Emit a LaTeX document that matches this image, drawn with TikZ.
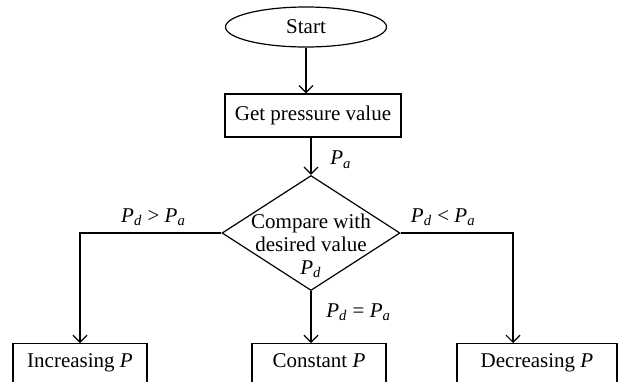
\documentclass[tikz,border=0pt]{standalone}
\usepackage{amsmath}
\usepackage{fontspec}
\setmainfont{Liberation Serif}
\usetikzlibrary{shapes.geometric,arrows.meta}
\newcommand{\Pv}[1]{\textit{P}$_{\textit{#1}}$}

\begin{document}
\begin{tikzpicture}[x=0.5pt,y=-0.5pt,line width=0.6pt,
  font=\fontsize{10.5}{11.5}\selectfont,>={Straight Barb[length=3.5pt,width=7pt]},
  start node/.style={ellipse,draw,minimum width=80.5pt,minimum height=20pt,inner sep=0pt},
  step node/.style={rectangle,draw,minimum height=21.5pt,inner sep=0pt},
  test node/.style={diamond,draw,minimum width=89pt,minimum height=57.5pt,inner sep=0pt},
  out node/.style={rectangle,draw,anchor=north,inner xsep=0pt,inner ysep=4.8pt,text height=7.2pt,text depth=8pt},
  elbow/.style={to path={-| (\tikztotarget) \tikztonodes}},
  trans/.style={->}]
  \useasboundingbox (0,0) rectangle (619,381);

  \node[start node] (start) at (306,27) {Start};
  \node[step node,minimum width=88pt] (get) at (313,115.5) {Get pressure value};
  \node[test node] (cmp) at (311,233) {};
  \node[align=center,inner sep=0pt] (cmptxt) at (311,246) {Compare with\\desired value\\\Pv{d}};
  \node[out node,minimum width=67pt] (inc) at (80,343) {Increasing \textit{P}};
  \node[out node,minimum width=67pt] (con) at (319,343) {Constant \textit{P}};
  \node[out node,minimum width=80pt] (dec) at (537,343) {Decreasing \textit{P}};
  \path (dec.north) ++(-24,0) coordinate (dectop);

  \path[trans]
    (start) edge (start |- get.north)
    (cmp |- get.south) edge node[pos=0.59,right=6pt] {\Pv{a}} (cmp)
    (cmp) edge[elbow] node[pos=0.24,above] {\Pv{d} > \Pv{a}} (inc.north)
          edge[elbow] node[pos=0.19,above] {\Pv{d} < \Pv{a}} (dectop)
          edge node[pos=0.4,right=4pt] {\Pv{d} = \Pv{a}} (cmp |- con.north);
\end{tikzpicture}
\end{document}
